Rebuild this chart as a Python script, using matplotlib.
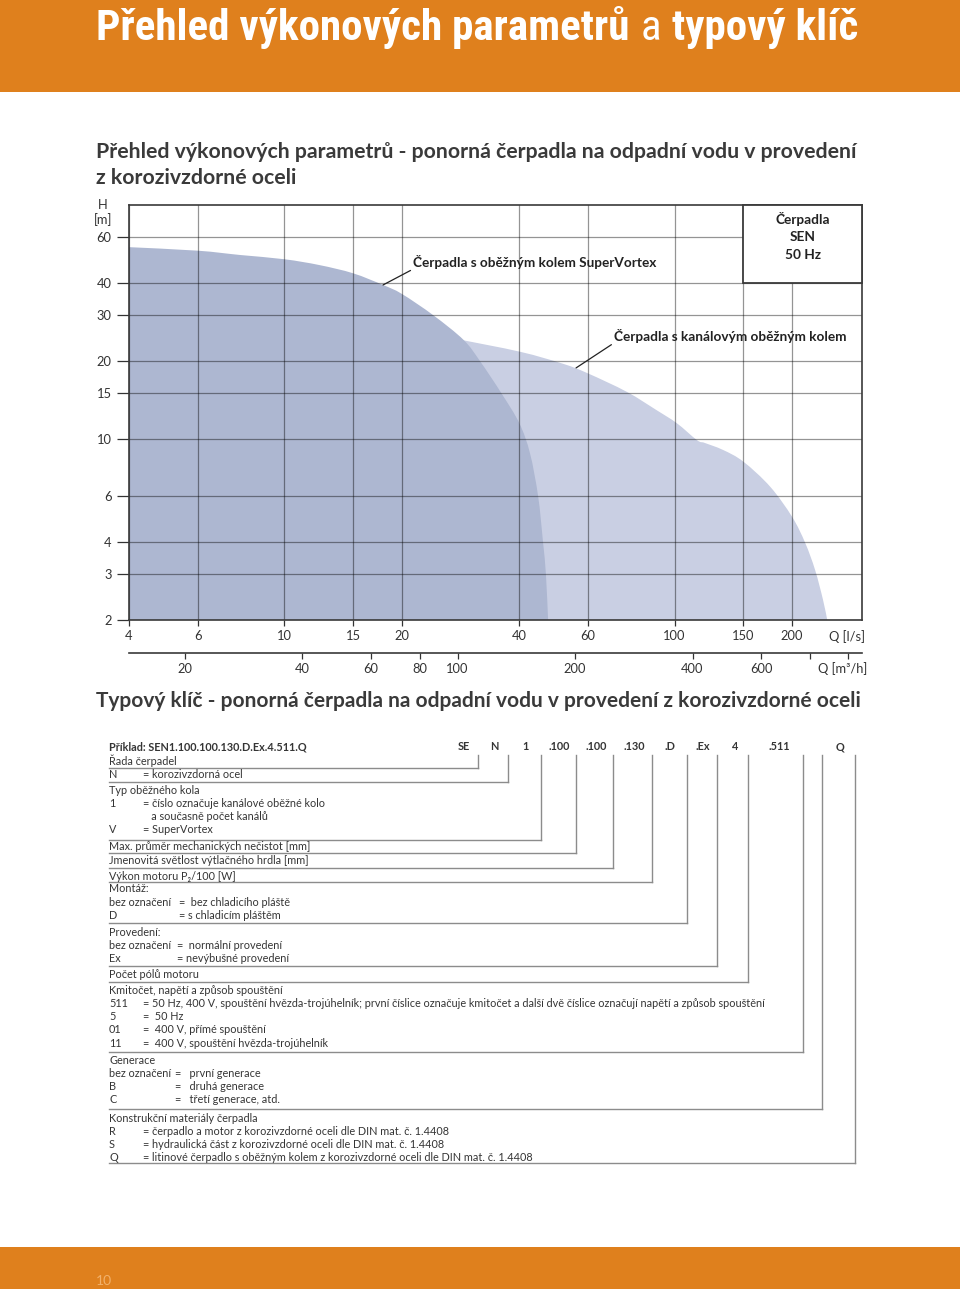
import matplotlib
matplotlib.use("Agg")
import numpy as np
import matplotlib.pyplot as plt
from matplotlib import font_manager
from matplotlib.patches import Rectangle, PathPatch
from matplotlib.path import Path
from matplotlib.ticker import FixedLocator, FixedFormatter, NullLocator

plt.rcParams['font.family'] = ['Lato', 'DejaVu Sans']

# --- data ------------------------------------------------------------------
q_ticks = [4, 6, 10, 15, 20, 40, 60, 100, 150, 200]          # Q [l/s]
q_m3h_ticks = [20, 40, 60, 80, 100, 200, 400, 600, 800, 1000]  # Q [m3/h]
q_m3h_labels = ['20', '40', '60', '80', '100', '200', '400', '600', '', '']
h_ticks = [2, 3, 4, 6, 10, 15, 20, 30, 40, 60]                 # H [m]

# envelope of SuperVortex pumps (Q l/s, H m)
vortex_q = [4, 6, 7.7, 10, 12.3, 15, 17.9, 20, 24.1, 28.8, 31.7,
            36, 40, 42.6, 44.7, 46.0, 46.8, 47.4]
vortex_h = [55.0, 53.3, 51.3, 49.4, 46.9, 43.6, 39.3, 36.3, 30, 24.1,
            20, 15, 11.5, 8.8, 6, 4, 3, 2]
# envelope of channel impeller pumps (shoulder at index 8)
channel_q = [27.7, 40.2, 51.8, 60.0, 75.4, 90.0, 101.3, 114, 118.3, 133, 150,
             175.7, 200, 216, 229, 240, 246]
channel_h = [24.3, 21.7, 19.5, 17.9, 15.2, 12.9, 11.5, 9.9, 9.7, 9.07, 8.17,
             6.54, 5.0, 3.97, 3.12, 2.39, 2]
channel_shoulder = 8

code_labels = ['SE', 'N', '1', '.100', '.100', '.130', '.D', '.Ex', '4', '.511', 'Q']

key_groups = [
    [("Řada čerpadel", "")],
    [("N", "= korozivzdorná ocel")],
    [("Typ oběžného kola", ""), ("1", "= číslo označuje kanálové oběžné kolo"),
     ("", "   a současně počet kanálů"), ("V", "= SuperVortex")],
    [("Max. průměr mechanických nečistot [mm]", "")],
    [("Jmenovitá světlost výtlačného hrdla [mm]", "")],
    [("Výkon motoru P₂/100 [W]", "")],
    [("Montáž:", ""), ("bez označení", "=  bez chladicího pláště"),
     ("D", "= s chladicím pláštěm")],
    [("Provedení:", ""), ("bez označení", "=  normální provedení"),
     ("Ex", "= nevýbušné provedení")],
    [("Počet pólů motoru", "")],
    [("Kmitočet, napětí a způsob spouštění", ""),
     ("511", "= 50 Hz, 400 V, spouštění hvězda-trojúhelník; první číslice označuje kmitočet a další dvě číslice označují napětí a způsob spouštění"),
     ("5", "=  50 Hz"), ("01", "=  400 V, přímé spouštění"),
     ("11", "=  400 V, spouštění hvězda-trojúhelník")],
    [("Generace", ""), ("bez označení", "=   první generace"),
     ("B", "=   druhá generace"), ("C", "=   třetí generace, atd.")],
    [("Konstrukční materiály čerpadla", ""),
     ("R", "= čerpadlo a motor z korozivzdorné oceli dle DIN mat. č. 1.4408"),
     ("S", "= hydraulická část z korozivzdorné oceli dle DIN mat. č. 1.4408"),
     ("Q", "= litinové čerpadlo s oběžným kolem z korozivzdorné oceli dle DIN mat. č. 1.4408")],
]

# --- layout (pixels of the 960x1289 page) ------------------------------------
W, H = 960, 1289
orange = '#df801d'
dark_fill = '#adb7d1'
light_fill = '#c9cfe3'
txt = '#353535'

fig = plt.figure(figsize=(9.6, 12.89), dpi=100)
renderer = fig.canvas.get_renderer()

page = fig.add_axes([0, 0, 1, 1])
page.set_xlim(0, W)
page.set_ylim(H, 0)
page.axis('off')


def box(x0, y0, x1, y1):
    return [x0 / W, 1 - y1 / H, (x1 - x0) / W, (y1 - y0) / H]


def width(s, **kw):
    t = page.text(0, 0, s, fontsize=10, **kw)
    w = t.get_window_extent(renderer).width
    t.remove()
    return w


def smooth(qs, hs):
    # Catmull-Rom through the read points, done in log space so it looks
    # smooth on the log-log axes
    p = np.column_stack([np.log10(qs), np.log10(hs)])
    n = len(p)
    verts, codes = [p[0]], [Path.MOVETO]
    for i in range(n - 1):
        p0, p1 = p[max(i - 1, 0)], p[i]
        p2, p3 = p[i + 1], p[min(i + 2, n - 1)]
        verts += [p1 + (p2 - p0) / 6, p2 - (p3 - p1) / 6, p2]
        codes += [Path.CURVE4] * 3
    return list(10 ** np.array(verts)), codes


def area(pieces, floor):
    verts, codes = [], []
    for k, (qs, hs) in enumerate(pieces):
        v, c = smooth(qs, hs)
        if k:
            v, c = v[1:], c[1:]
        verts += v
        codes += c
    verts += [(pieces[0][0][0], floor), (pieces[0][0][0], floor)]
    codes += [Path.LINETO, Path.CLOSEPOLY]
    return Path(verts, codes)


# header / footer bands
page.add_patch(Rectangle((0, 0), W, 92, color=orange, lw=0))
page.add_patch(Rectangle((0, 1247), W, 42, color=orange, lw=0))
page.text(96, 1281, '10', fontsize=10, color='#f2b16b', va='center')

names = {f.name for f in font_manager.fontManager.ttflist}
tfam = 'Lato'
for cand in ['Liberation Sans Narrow', 'Roboto Condensed', 'Open Sans Condensed']:
    if cand in names:
        tfam = cand
        break
parts = [("Přehled výkonových parametrů", 'bold'), ("a", 'normal'), ("typový klíč", 'bold')]
raw = sum(width(s, family=tfam, fontweight=fw) for s, fw in parts)
gap10 = 10 * 100 / 72 * 0.26
tsize = 10 * 762 / (raw + 2 * gap10)
x = 96
for s, fw in parts:
    t = page.text(x, 40, s, family=tfam, fontweight=fw, fontsize=tsize,
                  color='white', va='baseline')
    x = t.get_window_extent(renderer).x1 + tsize * 100 / 72 * 0.26

# section headings
sub1 = "Přehled výkonových parametrů - ponorná čerpadla na odpadní vodu v provedení"
ssize = 10 * 764 / width(sub1, fontweight='bold')
page.text(96, 152, sub1, fontsize=ssize, fontweight='bold', color='#3a3a3a', va='center')
page.text(96, 178, "z korozivzdorné oceli", fontsize=ssize, fontweight='bold',
          color='#3a3a3a', va='center')
head2 = "Typový klíč - ponorná čerpadla na odpadní vodu v provedení z korozivzdorné oceli"
hsize = 10 * 765 / width(head2, fontweight='bold')
page.text(96, 701, head2, fontsize=hsize, fontweight='bold', color='#3a3a3a', va='center')

# --- chart -----------------------------------------------------------------
ax = fig.add_axes(box(129, 205, 862, 620))
ax.set_xscale('log')
ax.set_yscale('log')
ax.set_xlim(4, 302)
ax.set_ylim(2, 80)

s = channel_shoulder
ax.add_patch(PathPatch(area([(channel_q[:s + 1], channel_h[:s + 1]),
                             (channel_q[s:], channel_h[s:])], 2),
                       facecolor=light_fill, lw=0))
ax.add_patch(PathPatch(area([(vortex_q, vortex_h)], 2), facecolor=dark_fill, lw=0))

ax.xaxis.set_major_locator(FixedLocator(q_ticks))
ax.xaxis.set_major_formatter(FixedFormatter([str(v) for v in q_ticks]))
ax.xaxis.set_minor_locator(NullLocator())
ax.yaxis.set_major_locator(FixedLocator(h_ticks))
ax.yaxis.set_major_formatter(FixedFormatter([str(v) for v in h_ticks]))
ax.yaxis.set_minor_locator(NullLocator())
ax.grid(True, color='black', alpha=0.42, lw=0.9)
for sp in ax.spines.values():
    sp.set_color('#3a3a3a')
    sp.set_linewidth(1.2)
ax.tick_params(axis='y', direction='out', length=8.6, width=0.9, pad=4,
               labelsize=9.3, colors='#333333')
ax.tick_params(axis='x', direction='out', length=4.3, width=0.9, pad=3,
               labelsize=9.3, colors='#333333')

ax.add_patch(Rectangle((150, 40), 302 - 150, 80 - 40, facecolor='white',
                       edgecolor='#3a3a3a', lw=1.3, zorder=3, clip_on=False))
for yy, t in zip([0.966, 0.9225, 0.879], ["Čerpadla", "SEN", "50 Hz"]):
    ax.text(0.9195, yy, t, transform=ax.transAxes, ha='center', va='center',
            fontsize=9.8, fontweight='bold', color='#222222', zorder=4)

arrow = dict(arrowstyle='-', color='#222222', lw=0.9, shrinkA=0, shrinkB=0,
             relpos=(0, 0))
ax.annotate("Čerpadla s oběžným kolem SuperVortex", xy=(17.9, 39.3),
            xytext=(21.4, 48.2), va='center', ha='left', fontsize=9.8,
            fontweight='bold', color='#222222', arrowprops=arrow)
ax.annotate("Čerpadla s kanálovým oběžným kolem", xy=(55.9, 18.8),
            xytext=(70, 25.0), va='center', ha='left', fontsize=9.8,
            fontweight='bold', color='#222222', arrowprops=arrow)

page.text(103, 205, 'H', ha='center', va='center', fontsize=9.3, color='#333333')
page.text(103, 220, '[m]', ha='center', va='center', fontsize=9.3, color='#333333')
page.text(847, 637, 'Q [l/s]', ha='center', va='center', fontsize=9.3, color='#333333')

# second flow scale in m3/h
ax2 = fig.add_axes(box(129, 652, 862, 653))
ax2.set_xscale('log')
ax2.set_xlim(4 * 3.6, 302 * 3.6)
ax2.patch.set_alpha(0)
for k in ['top', 'left', 'right']:
    ax2.spines[k].set_visible(False)
ax2.spines['bottom'].set_color('#3a3a3a')
ax2.spines['bottom'].set_linewidth(1.2)
ax2.set_yticks([])
ax2.xaxis.set_major_locator(FixedLocator(q_m3h_ticks))
ax2.xaxis.set_major_formatter(FixedFormatter(q_m3h_labels))
ax2.xaxis.set_minor_locator(NullLocator())
ax2.tick_params(axis='x', direction='out', length=4.5, width=0.9, pad=3,
                labelsize=9.3, colors='#333333')
page.text(843, 669, 'Q [m³/h]', ha='center', va='center', fontsize=9.3, color='#333333')

# --- type key --------------------------------------------------------------
code_x = [464, 494, 525, 559, 596, 634, 670, 703, 735, 779, 840]
line_x = [478, 508, 541, 576, 613, 652, 687, 717, 748, 803, 822, 855]
group_y = [761, 775, 790, 847, 861, 876, 889, 932, 974, 990, 1060, 1118]
rule_y = [768, 782, 840, 853, 868, 882, 923, 966, 982, 1052, 1109, 1163]
col2_x = [143, 143, 143, 143, 143, 143, 179, 177, 143, 143, 175, 143]
step = 13.3
long_line = key_groups[9][1][1]
ksize = 10 * 617 / width(long_line)
rule_c = '#8c8c8c'

page.text(109, 747, "Příklad: SEN1.100.100.130.D.Ex.4.511.Q", fontsize=ksize,
          fontweight='bold', color=txt, va='center')
for cx, lab in zip(code_x, code_labels):
    page.text(cx, 747, lab, fontsize=ksize, fontweight='bold', color=txt,
              ha='center', va='center')

for g, rows in enumerate(key_groups):
    for i, (left, right) in enumerate(rows):
        yy = group_y[g] + i * step
        if left:
            page.text(109, yy, left, fontsize=ksize, color=txt, va='center')
        if right:
            page.text(col2_x[g], yy, right, fontsize=ksize, color=txt, va='center')
    page.plot([109, line_x[g]], [rule_y[g], rule_y[g]], color=rule_c, lw=1.0)
    page.plot([line_x[g], line_x[g]], [755, rule_y[g]], color=rule_c, lw=1.0)

fig.savefig('out.png', dpi=100)
